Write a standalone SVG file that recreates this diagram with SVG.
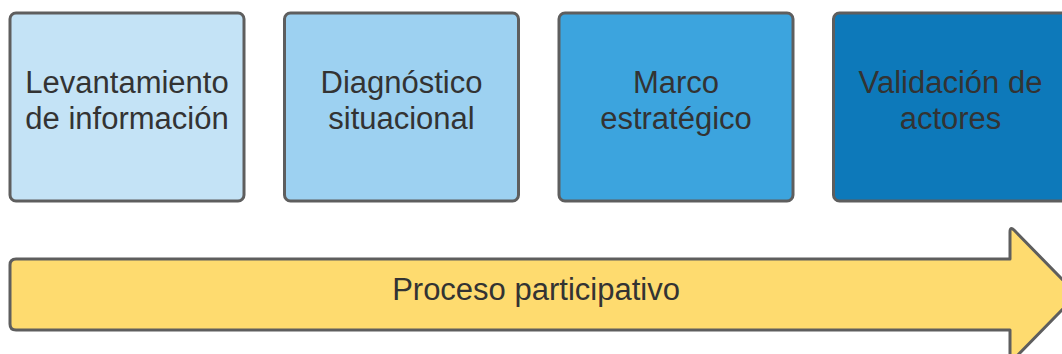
<svg xmlns="http://www.w3.org/2000/svg" width="1062" height="354" viewBox="0 0 1062 354">
<style>
.box{stroke:#5e5e5e;stroke-width:3}
.t{font-family:"Liberation Sans",Arial,sans-serif;font-size:31px;fill:#333333;text-anchor:middle}
</style>
<rect width="1062" height="354" fill="#ffffff"/>
<g id="node1"><rect class="box" x="10" y="13" width="234" height="188" rx="6" fill="#c4e3f6"/>
<text class="t" x="127" y="93">Levantamiento</text><text class="t" x="127" y="129">de información</text></g>
<g id="node2"><rect class="box" x="284.5" y="13" width="234" height="188" rx="6" fill="#9dd1f1"/>
<text class="t" x="401.5" y="93">Diagnóstico</text><text class="t" x="401.5" y="129">situacional</text></g>
<g id="node3"><rect class="box" x="559" y="13" width="234" height="188" rx="6" fill="#3ca4de"/>
<text class="t" x="676" y="93">Marco</text><text class="t" x="676" y="129">estratégico</text></g>
<g id="node4"><rect class="box" x="833.5" y="13" width="234" height="188" rx="6" fill="#0d79ba"/>
<text class="t" x="950.5" y="93">Validación de</text><text class="t" x="950.5" y="129">actores</text></g>
<g id="arrow">
<path class="box" fill="#fedb6f" stroke-linejoin="round" d="M16 259 L1010 259 L1010 232 Q1010 226 1014 230 L1077 294.5 L1014 359 Q1010 363 1010 357 L1010 330 L16 330 Q10 330 10 324 L10 265 Q10 259 16 259 Z"/>
<text class="t" x="536" y="300">Proceso participativo</text>
</g>
</svg>
